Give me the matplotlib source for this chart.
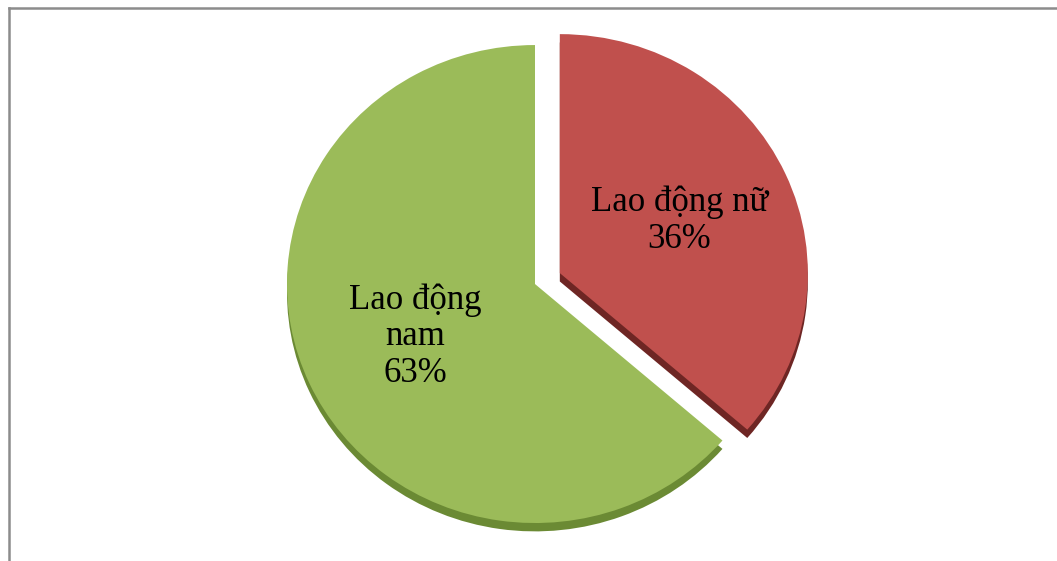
import matplotlib.pyplot as plt
from matplotlib.lines import Line2D

# Data
categories = ["Lao động nam", "Lao động nữ"]
label_text = ["Lao động\nnam", "Lao động nữ"]
values = [63, 36]
colors = ["#9bbb59", "#c0504d"]
edge_colors = ["#6b8a34", "#6e2624"]
explode = [0, 0.11]

plt.rcParams["font.family"] = ["Liberation Serif", "DejaVu Serif"]

fig = plt.figure(figsize=(10.57, 5.61), dpi=100)
ax = fig.add_axes([0.2715, 0.0677, 0.4693, 0.852])

# darker copy underneath for the 3D edge
shadow, _ = ax.pie(values, colors=edge_colors, explode=explode, startangle=90,
                   counterclock=True, center=(0, -0.035))
for w in shadow:
    w.set_clip_on(False)
    w.set_zorder(1)

wedges, texts = ax.pie(values, colors=colors, explode=explode, startangle=90,
                       counterclock=True, labels=[f"{t}\n{v}%" for t, v in zip(label_text, values)],
                       labeldistance=0.53, textprops=dict(fontsize=25, linespacing=1.15))
for w in wedges:
    w.set_clip_on(False)
    w.set_zorder(2)
for t in texts:
    t.set_ha("center")
    t.set_va("center")
    t.set_multialignment("center")
    t.set_zorder(3)

ax.set_xlim(-1, 1)
ax.set_ylim(-1, 1)
ax.set_aspect("auto")
ax.axis("off")

# chart frame (left and top edges visible)
fig.add_artist(Line2D([0.0085, 0.0085], [0, 0.985], color="#8c8c8c", lw=1.8))
fig.add_artist(Line2D([0.0085, 1], [0.985, 0.985], color="#8c8c8c", lw=1.8))

fig.savefig("out.png", dpi=100, facecolor="white")
